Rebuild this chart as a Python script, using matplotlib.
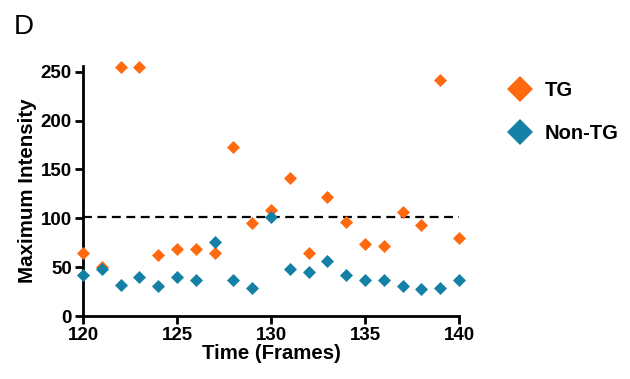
import matplotlib
matplotlib.use("Agg")
import matplotlib.pyplot as plt
from matplotlib.lines import Line2D

plt.rcParams['font.family'] = ['Liberation Sans', 'DejaVu Sans']

frames = list(range(120, 141))
tg = [64, 50, 255, 255, 62, 69, 69, 64, 173, 95, 109, 141, 64, 122, 96, 74, 72, 106, 93, 242, 80]
non_tg = [42, 48, 32, 40, 31, 40, 37, 76, 37, 29, 101, 48, 45, 56, 42, 37, 37, 31, 28, 29, 37]
threshold = 101
xticks = [120, 125, 130, 135, 140]
yticks = [0, 50, 100, 150, 200, 250]

c_tg = '#FF6A10'
c_non = '#1580A5'

fig = plt.figure(figsize=(6.3, 3.79), dpi=100)
ax = fig.add_axes([0.1317, 0.1662, 0.597, 0.66])

ax.scatter(frames, tg, marker='D', s=44, color=c_tg, linewidths=0, clip_on=False, zorder=3)
ax.scatter(frames, non_tg, marker='D', s=44, color=c_non, linewidths=0, clip_on=False, zorder=3)
ax.plot([120, 140], [threshold, threshold], ls=(0, (4, 2.5)), color='black', lw=1.6, zorder=2)

ax.set_xlim(120, 140)
ax.set_ylim(0, 256)
ax.set_xticks(xticks)
ax.set_yticks(yticks)
for s in ['top', 'right']:
    ax.spines[s].set_visible(False)
for s in ['left', 'bottom']:
    ax.spines[s].set_linewidth(2)
ax.tick_params(direction='out', length=6, width=2, labelsize=13.5, pad=2)
for lab in ax.get_xticklabels() + ax.get_yticklabels():
    lab.set_fontweight('bold')
ax.set_xlabel('Time (Frames)', fontsize=14.7, fontweight='bold', labelpad=0)
ax.set_ylabel('Maximum Intensity', fontsize=14.8, fontweight='bold', labelpad=3)

handles = [Line2D([], [], marker='D', ls='', color=c_tg, markersize=13, markeredgewidth=0),
           Line2D([], [], marker='D', ls='', color=c_non, markersize=13, markeredgewidth=0)]
fig.legend(handles, ['TG', 'Non-TG'], loc='upper left', bbox_to_anchor=(0.778, 0.835),
           frameon=False, prop={'weight': 'bold', 'size': 14.5}, handletextpad=0.6,
           labelspacing=1.2, handlelength=1.2)

fig.text(0.022, 0.91, 'D', fontsize=20)

fig.savefig('out.png', dpi=100)
